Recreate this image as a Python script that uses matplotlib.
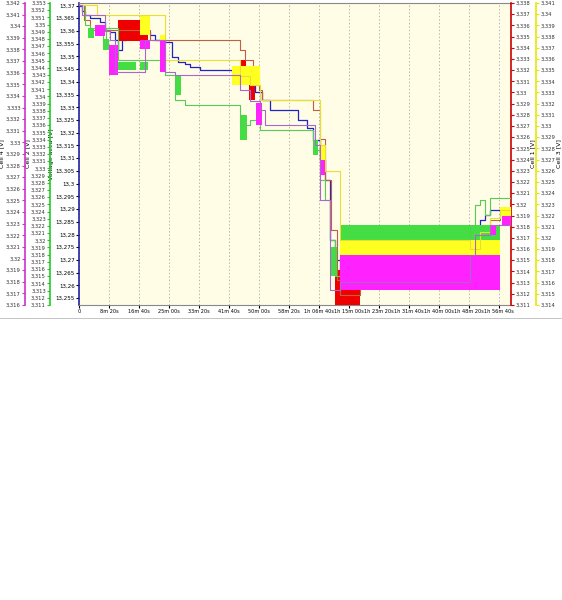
import numpy as np
import matplotlib
matplotlib.use('Agg')
import matplotlib.pyplot as plt
from matplotlib.ticker import FuncFormatter, MultipleLocator

# ===== DATEN (Zeit in s, Werte in V) =====
volt_t = [0, 50, 100, 183, 350, 433, 517, 600, 650, 717, 783, 850, 1017, 1183, 1267, 1433, 1550, 1650,
          1767, 1850, 2017, 2550, 2683, 2817, 2933, 3050, 3183, 3650, 3750, 3800, 3900, 4017, 4100,
          4183, 4267, 4350, 4450, 4550, 4683, 4800, 5000, 5200, 5400, 5600, 5800, 6000, 6200, 6400,
          6500, 6683, 6767, 6850, 7017, 7200]
volt_v = [13.3698, 13.3678, 13.3663, 13.3651, 13.3636, 13.3604, 13.3596, 13.3565, 13.3525, 13.3565,
          13.3604, 13.3604, 13.3596, 13.3584, 13.3565, 13.3557, 13.3498, 13.3478, 13.3470, 13.3458,
          13.3447, 13.3439, 13.3407, 13.3392, 13.3360, 13.3329, 13.3289, 13.3250, 13.3250, 13.3219,
          13.3172, 13.3093, 13.3014, 13.2778, 13.2700, 13.2661, 13.2720, 13.2680, 13.2641, 13.2720,
          13.2700, 13.2740, 13.2700, 13.2720, 13.2700, 13.2720, 13.2700, 13.2730, 13.2778, 13.2857,
          13.2877, 13.2896, 13.2904, 13.2916]

cell1_t = [0, 80, 183, 650, 1183, 2550, 2683, 2767, 2900, 3000, 3050, 3850, 3900, 4017, 4100, 4200,
           4300, 4350, 4683, 5600, 6517, 6683, 6850, 7017, 7200]
cell1_v = [3.3378, 3.3365, 3.3356, 3.3356, 3.3347, 3.3347, 3.3338, 3.3329, 3.3316, 3.3302, 3.3293,
           3.3293, 3.3284, 3.3258, 3.3222, 3.3177, 3.3132, 3.3119, 3.3135, 3.3140, 3.3150, 3.3168,
           3.3186, 3.3193, 3.3193]
cell1_bands = [(650, 1150, 3.3346, 3.3365), (2683, 2780, 3.3316, 3.3329), (2830, 2930, 3.3293, 3.3311),
               (4267, 4683, 3.3110, 3.3141), (4683, 7000, 3.3128, 3.3155), (5600, 5800, 3.3168, 3.3180),
               (7017, 7200, 3.3190, 3.3196)]

cell2_t = [0, 100, 183, 350, 400, 450, 600, 650, 1400, 1433, 1550, 1600, 1767, 2550, 2683, 2850, 3017,
           3850, 3900, 4017, 4100, 4183, 4267, 4350, 6517, 6600, 6683, 6767, 6850, 7200]
cell2_v = [3.3527, 3.3499, 3.3495, 3.3495, 3.3472, 3.3495, 3.3495, 3.3451, 3.3451, 3.3430, 3.3430,
           3.3395, 3.3388, 3.3388, 3.3360, 3.3367, 3.3353, 3.3353, 3.3325, 3.3284, 3.3256, 3.3200,
           3.3150, 3.3186, 3.3221, 3.3249, 3.3256, 3.3235, 3.3259, 3.3259]
cell2_bands = [(150, 250, 3.3481, 3.3495), (400, 500, 3.3465, 3.3480), (650, 950, 3.3437, 3.3448),
               (1017, 1150, 3.3437, 3.3448), (1600, 1700, 3.3402, 3.3430), (2683, 2800, 3.3339, 3.3374),
               (3900, 3980, 3.3319, 3.3339), (4183, 4300, 3.3150, 3.3190), (4350, 7017, 3.3186, 3.3221)]

cell3_t = [0, 267, 300, 1017, 1433, 2550, 2683, 2850, 3017, 3850, 4017, 4100, 4350, 6517, 6683, 6850,
           7017, 7200]
cell3_v = [3.3408, 3.3408, 3.3399, 3.3399, 3.3359, 3.3359, 3.3345, 3.3337, 3.3323, 3.3323, 3.3283,
           3.3260, 3.3198, 3.3190, 3.3205, 3.3218, 3.3225, 3.3225]
cell3_bands = [(1017, 1183, 3.3381, 3.3399), (1350, 1433, 3.3364, 3.3381), (2550, 3017, 3.3337, 3.3354),
               (4017, 4100, 3.3270, 3.3283), (4350, 7017, 3.3176, 3.3198), (7017, 7200, 3.3220, 3.3228)]

cell4_t = [0, 50, 350, 433, 517, 600, 1017, 1100, 1433, 1600, 2550, 2683, 2850, 3017, 3100, 3850, 3933,
           4017, 4183, 4350, 6517, 6600, 6850, 7200]
cell4_v = [3.3418, 3.3410, 3.3410, 3.3396, 3.3388, 3.3361, 3.3361, 3.3388, 3.3361, 3.3358, 3.3358,
           3.3345, 3.3336, 3.3328, 3.3315, 3.3315, 3.3298, 3.3250, 3.3173, 3.3180, 3.3203, 3.3220,
           3.3229, 3.3229]
cell4_bands = [(267, 433, 3.3392, 3.3401), (500, 650, 3.3358, 3.3384), (1017, 1183, 3.3380, 3.3388),
               (1350, 1433, 3.3361, 3.3388), (2950, 3050, 3.3315, 3.3334), (4017, 4100, 3.3272, 3.3285),
               (4350, 7017, 3.3173, 3.3203), (6850, 6950, 3.3220, 3.3229), (7050, 7200, 3.3229, 3.3237)]

x_ticks = np.arange(0, 7001, 500)


def fmt_time(s, pos=None):
    s = int(round(s))
    if s == 0:
        return '0'
    h, r = divmod(s, 3600)
    m, sec = divmod(r, 60)
    if h:
        return f'{h}h {m:02d}m {sec:02d}s'
    return f'{m}m {sec:02d}s'


def fmt_comma(v, pos=None):
    txt = f'{v:.4f}'.rstrip('0').rstrip('.')
    return txt.replace('.', ',')


fig = plt.figure(figsize=(5.62, 6.0), dpi=100)
ax = fig.add_axes([0.1406, 0.4917, 0.7687, 0.5033])
ax.set_facecolor('#fffde6')
ax.set_xlim(0, 7200)
ax.set_xticks(x_ticks)
ax.xaxis.set_major_formatter(FuncFormatter(fmt_time))
ax.grid(axis='x', linestyle=(0, (2, 3)), color='#999999', linewidth=0.5)
ax.tick_params(axis='x', labelsize=3.6, length=2, pad=1)

# Reihenfolge der Zeichnung: rot, gruen, gelb, magenta
ax_c1 = ax.twinx()
ax_c2 = ax.twinx()
ax_c3 = ax.twinx()
ax_c4 = ax.twinx()

axes_cfg = [
    (ax_c1, 3.311, 3.338, '#cc0000', 'right', 1.0, 'Cell 1 [V]', 0.5),
    (ax_c2, 3.311, 3.353, '#22cc22', 'left', -0.067, 'Cell 2 [V]', 0.5),
    (ax_c3, 3.314, 3.341, '#e8e800', 'right', 1.058, 'Cell 3 [V]', 1),
    (ax_c4, 3.316, 3.342, '#cc33cc', 'left', -0.125, 'Cell 4 [V]', 1),
]
for a, lo, hi, col, side, pos, lab, lpad in axes_cfg:
    a.set_ylim(lo, hi)
    a.yaxis.set_ticks_position(side)
    a.yaxis.set_label_position(side)
    for sp in a.spines.values():
        sp.set_visible(False)
    a.spines[side].set_visible(True)
    a.spines[side].set_position(('axes', pos))
    a.spines[side].set_color(col)
    a.spines[side].set_linewidth(1.2)
    a.yaxis.set_major_locator(MultipleLocator(0.001))
    a.yaxis.set_major_formatter(FuncFormatter(fmt_comma))
    a.tick_params(axis='y', labelsize=3.8, length=2, pad=1, colors='#333333')
    a.tick_params(axis='y', color=col)
    a.set_ylabel(lab, fontsize=4.5, labelpad=lpad)

ax.set_ylim(13.2523, 13.371)
ax.yaxis.set_major_locator(MultipleLocator(0.005))
ax.yaxis.set_major_formatter(FuncFormatter(fmt_comma))
ax.tick_params(axis='y', labelsize=4, length=2, pad=1)
ax.set_ylabel('Voltage accu [V]', fontsize=4.5, labelpad=1)
ax.spines['left'].set_color('#2222aa')
ax.spines['left'].set_linewidth(1.2)
ax.spines['right'].set_visible(False)
ax.spines['top'].set_color('#888888')
ax.spines['bottom'].set_color('#888888')

# Blau (Summenspannung) auf der Hauptachse, liegt hinter den Zellbaendern
ax.step(volt_t, volt_v, where='post', color='#2222cc', linewidth=0.9)

series = [
    (ax_c1, cell1_t, cell1_v, cell1_bands, '#ee0000', '#c06040'),
    (ax_c2, cell2_t, cell2_v, cell2_bands, '#44dd44', '#55cc55'),
    (ax_c3, cell3_t, cell3_v, cell3_bands, '#ffff22', '#e8e030'),
    (ax_c4, cell4_t, cell4_v, cell4_bands, '#ff22ff', '#aa66cc'),
]
for a, t, v, bands, fill_col, line_col in series:
    for t0, t1, lo, hi in bands:
        a.fill_between([t0, t1], [lo, lo], [hi, hi], color=fill_col, linewidth=0)
    a.step(t, v, where='post', color=line_col, linewidth=0.8)

fig.add_artist(plt.Line2D([0, 1], [1 - 318 / 600, 1 - 318 / 600], color='#bbbbbb', linewidth=0.6))

fig.savefig('out.png', dpi=100)
